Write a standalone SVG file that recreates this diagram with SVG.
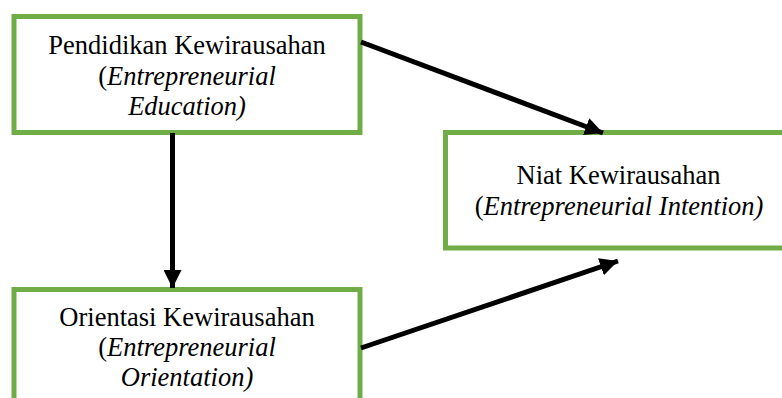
<svg xmlns="http://www.w3.org/2000/svg" width="782" height="398" viewBox="0 0 782 398">
<style>
.box{fill:#fff;stroke:#70AD47;stroke-width:5}
.t{font-family:'Liberation Serif','DejaVu Serif',serif;font-size:26.5px;fill:#000;text-anchor:middle}
.i{font-style:italic}
.c{stroke:#000;stroke-width:5;fill:none}
</style>
<defs>
<marker id="ah" markerUnits="userSpaceOnUse" markerWidth="19" markerHeight="18" refX="18" refY="9" orient="auto" viewBox="0 0 19 18">
<path d="M0,0 L18,9 L0,18 z" fill="#000"/>
</marker>
</defs>
<rect width="782" height="398" fill="#fff"/>
<g id="node-pendidikan">
<rect class="box" x="14" y="16.5" width="346" height="116"/>
<text class="t" x="187" y="53.5" font-family="Liberation Serif, serif">Pendidikan Kewirausahan</text>
<text class="t" x="187" y="84.5" font-family="Liberation Serif, serif">(<tspan class="i">Entrepreneurial</tspan></text>
<text class="t i" x="187" y="115" font-family="Liberation Serif, serif">Education)</text>
</g>
<g id="node-orientasi">
<rect class="box" x="14" y="289.5" width="346" height="130"/>
<text class="t" x="187" y="325.5" font-family="Liberation Serif, serif">Orientasi Kewirausahan</text>
<text class="t" x="187" y="355.5" font-family="Liberation Serif, serif">(<tspan class="i">Entrepreneurial</tspan></text>
<text class="t i" x="187" y="385.5" font-family="Liberation Serif, serif">Orientation)</text>
</g>
<g id="node-niat">
<rect class="box" x="445.5" y="132.5" width="346" height="115.5"/>
<text class="t" x="618.5" y="184" font-family="Liberation Serif, serif">Niat Kewirausahan</text>
<text class="t" x="619" y="215" font-family="Liberation Serif, serif">(<tspan class="i">Entrepreneurial Intention)</tspan></text>
</g>
<g id="connectors">
<line class="c" x1="172.5" y1="133" x2="172.5" y2="288" marker-end="url(#ah)"/>
<line class="c" x1="361" y1="42" x2="603" y2="133" marker-end="url(#ah)"/>
<line class="c" x1="361" y1="348" x2="618" y2="261" marker-end="url(#ah)"/>
</g>
</svg>
